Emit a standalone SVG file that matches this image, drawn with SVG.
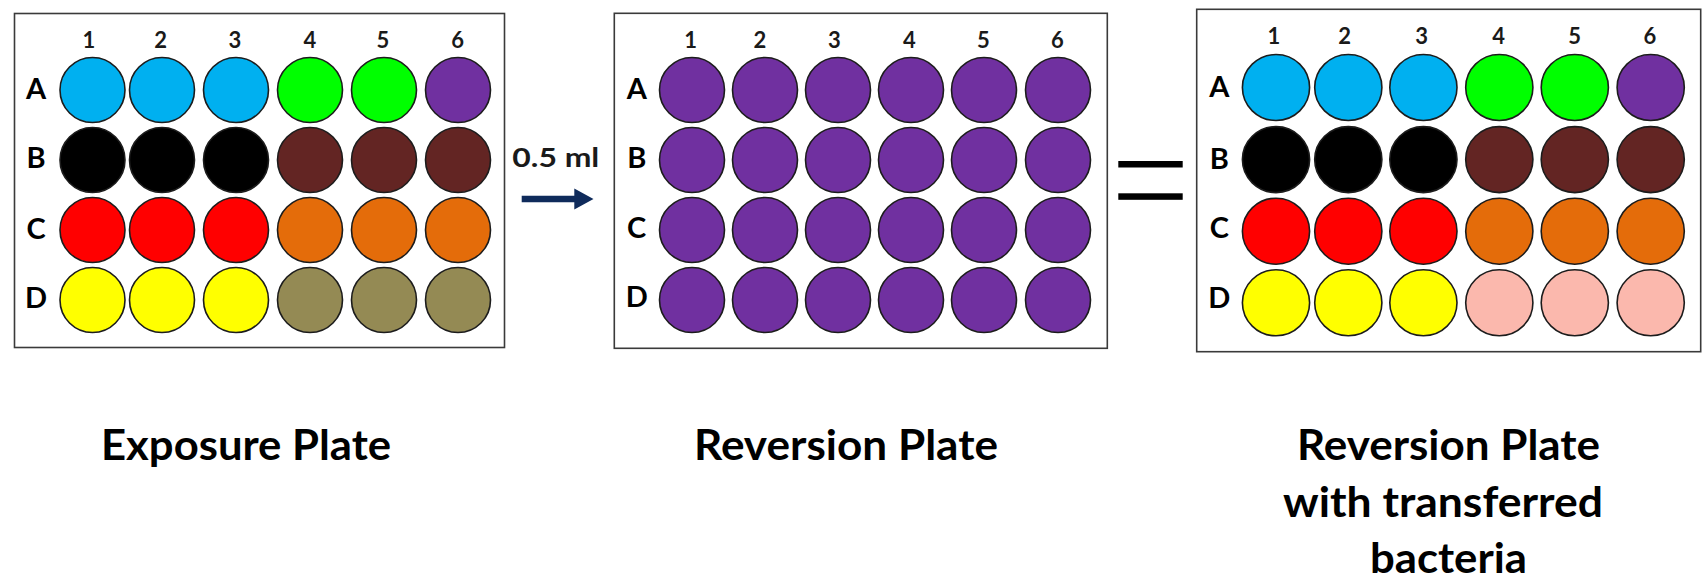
<svg xmlns="http://www.w3.org/2000/svg" width="1704" height="584" viewBox="0 0 1704 584">
<defs>
<style>
.plate{fill:#ffffff;stroke:#3a3a3a;stroke-width:1.6}
.w{stroke:#1c1c1c;stroke-width:1.6}
.bl{fill:#00b0f0}.gr{fill:#00ff00}.pu{fill:#7030a0}.bk{fill:#000000}.br{fill:#632523}
.rd{fill:#ff0000}.or{fill:#e46c0a}.ye{fill:#ffff00}.ol{fill:#948a54}.pk{fill:#fbb8ad}
.num{font-family:Lato,"Liberation Sans",sans-serif;font-weight:bold;font-size:22px;fill:#1a1a1a;text-anchor:middle}
.row{font-family:Lato,"Liberation Sans",sans-serif;font-weight:bold;font-size:29px;fill:#000;text-anchor:middle}
.cap{font-family:Lato,"Liberation Sans",sans-serif;font-weight:bold;font-size:42px;fill:#000}
.vol{font-family:Lato,"Liberation Sans",sans-serif;font-weight:bold;font-size:27px;fill:#1a1a1a}
.arrow{fill:#0f2b5b}
</style>
</defs>
<rect width="1704" height="584" fill="#ffffff"/>

<g id="exposure-plate">
<rect class="plate" x="14.5" y="13.5" width="490" height="334"/>
<g class="num">
<text x="89" y="48.3">1</text><text x="160.7" y="48.3">2</text><text x="235" y="48.3">3</text>
<text x="310" y="48.3">4</text><text x="383" y="48.3">5</text><text x="457.7" y="48.3">6</text>
</g>
<g class="row">
<text x="36" y="99.3">A</text><text x="36" y="168.3">B</text><text x="36" y="239">C</text><text x="36" y="308">D</text>
</g>
<g class="w">
<circle class="bl" cx="92.5" cy="90" r="32.5"/><circle class="bl" cx="162" cy="90" r="32.5"/><circle class="bl" cx="236" cy="90" r="32.5"/>
<circle class="gr" cx="310" cy="90" r="32.5"/><circle class="gr" cx="384" cy="90" r="32.5"/><circle class="pu" cx="458" cy="90" r="32.5"/>
<circle class="bk" cx="92.5" cy="160" r="32.5"/><circle class="bk" cx="162" cy="160" r="32.5"/><circle class="bk" cx="236" cy="160" r="32.5"/>
<circle class="br" cx="310" cy="160" r="32.5"/><circle class="br" cx="384" cy="160" r="32.5"/><circle class="br" cx="458" cy="160" r="32.5"/>
<circle class="rd" cx="92.5" cy="230" r="32.5"/><circle class="rd" cx="162" cy="230" r="32.5"/><circle class="rd" cx="236" cy="230" r="32.5"/>
<circle class="or" cx="310" cy="230" r="32.5"/><circle class="or" cx="384" cy="230" r="32.5"/><circle class="or" cx="458" cy="230" r="32.5"/>
<circle class="ye" cx="92.5" cy="300" r="32.5"/><circle class="ye" cx="162" cy="300" r="32.5"/><circle class="ye" cx="236" cy="300" r="32.5"/>
<circle class="ol" cx="310" cy="300" r="32.5"/><circle class="ol" cx="384" cy="300" r="32.5"/><circle class="ol" cx="458" cy="300" r="32.5"/>
</g>
</g>

<g id="reversion-plate">
<rect class="plate" x="614.3" y="13.3" width="493" height="335"/>
<g class="num">
<text x="690.7" y="48.3">1</text><text x="760" y="48.3">2</text><text x="834.3" y="48.3">3</text>
<text x="909.3" y="48.3">4</text><text x="983.3" y="48.3">5</text><text x="1057.3" y="48.3">6</text>
</g>
<g class="row">
<text x="636.7" y="99.3">A</text><text x="636.7" y="168.3">B</text><text x="636.7" y="238.3">C</text><text x="636.7" y="306.7">D</text>
</g>
<g class="w pu">
<circle cx="692" cy="90" r="32.5"/><circle cx="765" cy="90" r="32.5"/><circle cx="838" cy="90" r="32.5"/><circle cx="911" cy="90" r="32.5"/><circle cx="984" cy="90" r="32.5"/><circle cx="1058" cy="90" r="32.5"/>
<circle cx="692" cy="160" r="32.5"/><circle cx="765" cy="160" r="32.5"/><circle cx="838" cy="160" r="32.5"/><circle cx="911" cy="160" r="32.5"/><circle cx="984" cy="160" r="32.5"/><circle cx="1058" cy="160" r="32.5"/>
<circle cx="692" cy="230" r="32.5"/><circle cx="765" cy="230" r="32.5"/><circle cx="838" cy="230" r="32.5"/><circle cx="911" cy="230" r="32.5"/><circle cx="984" cy="230" r="32.5"/><circle cx="1058" cy="230" r="32.5"/>
<circle cx="692" cy="300" r="32.5"/><circle cx="765" cy="300" r="32.5"/><circle cx="838" cy="300" r="32.5"/><circle cx="911" cy="300" r="32.5"/><circle cx="984" cy="300" r="32.5"/><circle cx="1058" cy="300" r="32.5"/>
</g>
</g>

<g id="result-plate">
<rect class="plate" x="1196.7" y="9.3" width="504" height="342.4"/>
<g class="num">
<text x="1274" y="44.3">1</text><text x="1344.6" y="44.3">2</text><text x="1421.6" y="44.3">3</text>
<text x="1498.7" y="44.3">4</text><text x="1574.6" y="44.3">5</text><text x="1650" y="44.3">6</text>
</g>
<g class="row">
<text x="1219.4" y="97.3">A</text><text x="1219.4" y="169.3">B</text><text x="1219.4" y="238">C</text><text x="1219.4" y="308.3">D</text>
</g>
<g class="w">
<ellipse class="bl" cx="1276" cy="87.5" rx="33.6" ry="33"/><ellipse class="bl" cx="1348.3" cy="87.5" rx="33.6" ry="33"/><ellipse class="bl" cx="1423.4" cy="87.5" rx="33.6" ry="33"/>
<ellipse class="gr" cx="1499.3" cy="87.5" rx="33.6" ry="33"/><ellipse class="gr" cx="1574.8" cy="87.5" rx="33.6" ry="33"/><ellipse class="pu" cx="1650.7" cy="87.5" rx="33.6" ry="33"/>
<ellipse class="bk" cx="1276" cy="159.6" rx="33.6" ry="33"/><ellipse class="bk" cx="1348.3" cy="159.6" rx="33.6" ry="33"/><ellipse class="bk" cx="1423.4" cy="159.6" rx="33.6" ry="33"/>
<ellipse class="br" cx="1499.3" cy="159.6" rx="33.6" ry="33"/><ellipse class="br" cx="1574.8" cy="159.6" rx="33.6" ry="33"/><ellipse class="br" cx="1650.7" cy="159.6" rx="33.6" ry="33"/>
<ellipse class="rd" cx="1276" cy="231.2" rx="33.6" ry="33"/><ellipse class="rd" cx="1348.3" cy="231.2" rx="33.6" ry="33"/><ellipse class="rd" cx="1423.4" cy="231.2" rx="33.6" ry="33"/>
<ellipse class="or" cx="1499.3" cy="231.2" rx="33.6" ry="33"/><ellipse class="or" cx="1574.8" cy="231.2" rx="33.6" ry="33"/><ellipse class="or" cx="1650.7" cy="231.2" rx="33.6" ry="33"/>
<ellipse class="ye" cx="1276" cy="302.8" rx="33.6" ry="33"/><ellipse class="ye" cx="1348.3" cy="302.8" rx="33.6" ry="33"/><ellipse class="ye" cx="1423.4" cy="302.8" rx="33.6" ry="33"/>
<ellipse class="pk" cx="1499.3" cy="302.8" rx="33.6" ry="33"/><ellipse class="pk" cx="1574.8" cy="302.8" rx="33.6" ry="33"/><ellipse class="pk" cx="1650.7" cy="302.8" rx="33.6" ry="33"/>
</g>
</g>

<g id="connectors">
<text class="vol" x="512.3" y="166.7" textLength="87" lengthAdjust="spacingAndGlyphs">0.5 ml</text>
<path class="arrow" d="M521.7,195.8 L574.3,195.8 L574.3,188.5 L593.5,199 L574.3,209.5 L574.3,202.2 L521.7,202.2 Z"/>
</g>

<g id="equals">
<rect x="1118.3" y="161" width="64.4" height="6.5" fill="#000"/>
<rect x="1118.3" y="193.3" width="64.4" height="6.5" fill="#000"/>
</g>

<g id="labels">
<text class="cap" x="101" y="460" textLength="290" lengthAdjust="spacingAndGlyphs">Exposure Plate</text>
<text class="cap" x="694" y="460" textLength="304" lengthAdjust="spacingAndGlyphs">Reversion Plate</text>
<text class="cap" x="1297" y="460" textLength="303" lengthAdjust="spacingAndGlyphs">Reversion Plate</text>
<text class="cap" x="1283" y="517" textLength="320" lengthAdjust="spacingAndGlyphs">with transferred</text>
<text class="cap" x="1370" y="573" textLength="157" lengthAdjust="spacingAndGlyphs">bacteria</text>
</g>
</svg>
